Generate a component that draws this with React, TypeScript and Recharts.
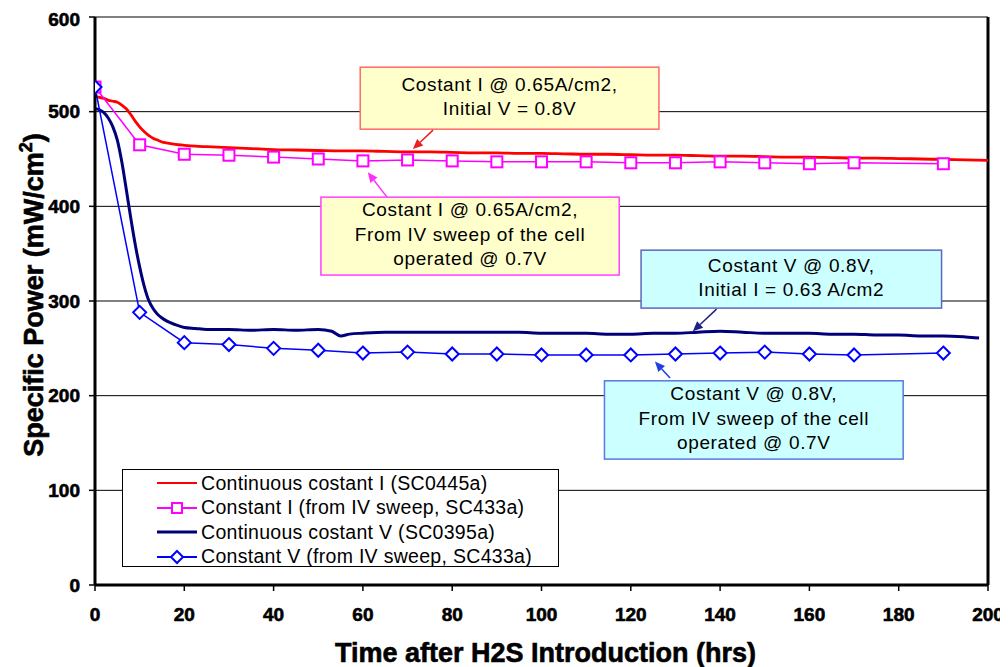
import React from "react";
import {
  LineChart,
  Line,
  XAxis,
  YAxis,
  CartesianGrid,
  ReferenceArea,
  ReferenceLine,
  Legend,
  Label,
} from "recharts";

// Time after H2S introduction (hrs) vs. specific power (mW/cm2)
const contIHours = [
  0, 1, 2, 3, 4, 5, 6, 7, 8, 9, 10, 11, 12, 13, 14, 15, 16,
  18, 20, 22.5, 25, 27.5, 30,
  35, 40, 45, 50, 55, 60, 65, 70, 75, 80, 85, 90, 95, 100, 105, 110, 115, 120,
  125, 130, 135, 140, 145, 150, 155, 160, 165, 170, 175, 180, 185, 190, 195, 200,
];
const contIPower = [
  516, 515, 514, 512, 511, 510, 507, 503, 497, 490, 484, 479, 475, 472, 470, 468, 467,
  465.5, 464.5, 463.5, 463, 462.5, 462,
  461, 460, 459.5, 459, 458.5, 458.5, 458, 457.5, 457.5, 457, 456.5, 456.5, 456, 456,
  455.5, 455, 455, 454.5, 454, 454, 453.5, 453, 453, 452.5, 452, 452, 451.5, 451, 451,
  450.5, 450, 449.5, 449, 448.5,
];

const sweepIHours = [0, 10, 20, 30, 40, 50, 60, 70, 80, 90, 100, 110, 120, 130, 140, 150, 160, 170, 190];
const sweepIPower = [526, 465, 455, 454, 452, 450, 448, 449, 448, 447, 447, 447, 446, 446, 447, 446, 445, 446, 445];

const contVHours = [
  0, 1, 2, 3, 4, 5, 6, 7, 8, 9, 10, 11, 12, 13, 14, 15, 16,
  18, 20, 22.5, 25, 30, 35, 40, 45, 50,
  53, 55, 57,
  60, 65, 70, 75, 80, 85, 90, 95, 100, 105, 110, 115, 120, 125, 130, 135, 140,
  145, 150, 155, 160, 165, 170, 175, 180, 185, 190, 195,
  198,
];
const contVPower = [
  503, 502, 499, 493, 484, 470, 447, 418, 388, 360, 336, 316, 301, 292, 286, 282, 279,
  275, 272, 271, 270, 270, 269, 270, 269, 270,
  268, 263, 265,
  266, 267, 267, 267, 267, 267, 267, 267, 266, 266, 266, 265, 265, 266, 266, 267, 268,
  267, 266, 266, 266, 265, 265, 264, 264, 263, 263, 262,
  261,
];

const sweepVHours = [0, 10, 20, 30, 40, 50, 60, 70, 80, 90, 100, 110, 120, 130, 140, 150, 160, 170, 190];
const sweepVPower = [526, 288, 256, 254, 250, 248, 245, 246, 244, 244, 243, 243, 243, 244, 245, 246, 244, 243, 245];

const xTicks = [0, 20, 40, 60, 80, 100, 120, 140, 160, 180, 200];
const yTicks = [0, 100, 200, 300, 400, 500, 600];

const seriesNames = [
  "Continuous costant I (SC0445a)",
  "Constant I (from IV sweep, SC433a)",
  "Continuous costant V (SC0395a)",
  "Constant V (from IV sweep, SC433a)",
];

const xTitle = "Time after H2S Introduction (hrs)";
const yTitle = "Specific Power (mW/cm";

const zip = (h: number[], p: number[]) => h.map((t, i) => ({ t, p: p[i] }));

const contIData = zip(contIHours, contIPower);
const sweepIData = zip(sweepIHours, sweepIPower);
const contVData = zip(contVHours, contVPower);
const sweepVData = zip(sweepVHours, sweepVPower);

const RED = "#ff0000";
const MAGENTA = "#ff00ff";
const NAVY = "#00007a";
const BLUE = "#0000ff";

const TEXT_FONT = "'Liberation Sans', Arial, sans-serif";

// Callout boxes, placed in chart units (hrs, mW/cm2)
const notes = [
  {
    lines: ["Costant I @ 0.65A/cm2,", "Initial V = 0.8V"],
    x1: 59.4, x2: 126.3, y1: 481.5, y2: 547,
    fill: "#ffffcc", stroke: "#ff6a6a",
    from: [75.7, 480.5], to: [71.2, 460.5], arrow: "#e82020",
  },
  {
    lines: ["Costant I @ 0.65A/cm2,", "From IV sweep of the cell", "operated @ 0.7V"],
    x1: 50.6, x2: 117.4, y1: 327.4, y2: 409.7,
    fill: "#ffffcc", stroke: "#ff40ff",
    from: [65.4, 409.7], to: [61.1, 436], arrow: "#ff30ff",
  },
  {
    lines: ["Costant V @ 0.8V,", "Initial I = 0.63 A/cm2"],
    x1: 122.3, x2: 189.6, y1: 292.5, y2: 353.7,
    fill: "#ccffff", stroke: "#5a68c0",
    from: [139.2, 291.4], to: [133.9, 268], arrow: "#202080",
  },
  {
    lines: ["Costant V @ 0.8V,", "From IV sweep of the cell", "operated @ 0.7V"],
    x1: 114.1, x2: 181.0, y1: 133, y2: 215.7,
    fill: "#ccffff", stroke: "#5a78e0",
    from: [128.8, 218.6], to: [125.4, 236], arrow: "#2040e0",
  },
];

const SquareDot = (props: any) => {
  const { cx, cy, index } = props;
  if (cx == null || cy == null) return <g key={`sq-${index}`} />;
  return (
    <rect key={`sq-${index}`} x={cx - 5.5} y={cy - 5.5} width={11} height={11}
      fill="#fff" stroke={MAGENTA} strokeWidth={2} />
  );
};

const DiamondDot = (props: any) => {
  const { cx, cy, index } = props;
  if (cx == null || cy == null) return <g key={`dm-${index}`} />;
  const r = 6.5;
  return (
    <polygon key={`dm-${index}`}
      points={`${cx},${cy - r} ${cx + r},${cy} ${cx},${cy + r} ${cx - r},${cy}`}
      fill="#fff" stroke={BLUE} strokeWidth={2} />
  );
};

const NoteBox = (props: any) => {
  const { x, y, width, height, note } = props;
  const lh = 24.5;
  const n = note.lines.length;
  const cx = x + width / 2;
  const cy = y + height / 2 - 2;
  return (
    <g>
      <rect x={x} y={y} width={width} height={height} fill={note.fill}
        stroke={note.stroke} strokeWidth={1.5} />
      {note.lines.map((s: string, i: number) => (
        <text key={i} x={cx} y={cy + (i - (n - 1) / 2) * lh + 6.8}
          textAnchor="middle" fontFamily={TEXT_FONT} fontSize={19}
          letterSpacing={0.65} fill="#000">
          {s}
        </text>
      ))}
    </g>
  );
};

const Arrow = (props: any) => {
  const { x1, y1, x2, y2, color } = props;
  if ([x1, y1, x2, y2].some((v) => v == null || isNaN(v))) return <g />;
  const ang = Math.atan2(y2 - y1, x2 - x1);
  const len = 10;
  const hw = 4.5;
  const bx = x2 - len * Math.cos(ang);
  const by = y2 - len * Math.sin(ang);
  const px = -Math.sin(ang) * hw;
  const py = Math.cos(ang) * hw;
  return (
    <g>
      <line x1={x1} y1={y1} x2={bx} y2={by} stroke={color} strokeWidth={1.5} />
      <polygon points={`${x2},${y2} ${bx + px},${by + py} ${bx - px},${by - py}`} fill={color} />
    </g>
  );
};

const legendRows = [
  { name: seriesNames[0], color: RED, width: 2, marker: "none" },
  { name: seriesNames[1], color: MAGENTA, width: 2, marker: "square" },
  { name: seriesNames[2], color: NAVY, width: 3, marker: "none" },
  { name: seriesNames[3], color: BLUE, width: 2, marker: "diamond" },
];

const LegendBox = () => (
  <div style={{ paddingTop: 1 }}>
    {legendRows.map((r) => (
      <div key={r.name} style={{ display: "flex", alignItems: "center", height: 24.5, paddingLeft: 34 }}>
        <svg width={40} height={16} style={{ marginRight: 4, flex: "none" }}>
          <line x1={0} y1={8} x2={40} y2={8} stroke={r.color} strokeWidth={r.width} />
          {r.marker === "square" && (
            <rect x={15} y={3} width={10} height={10} fill="#fff" stroke={r.color} strokeWidth={2} />
          )}
          {r.marker === "diamond" && (
            <polygon points="20,2 26,8 20,14 14,8" fill="#fff" stroke={r.color} strokeWidth={2} />
          )}
        </svg>
        <span style={{ fontFamily: TEXT_FONT, fontSize: 19.5, letterSpacing: 0.3, color: "#000", whiteSpace: "nowrap" }}>
          {r.name}
        </span>
      </div>
    ))}
  </div>
);

const XTitle = (props: any) => {
  const vb = props.viewBox || {};
  return (
    <text x={vb.x + vb.width / 2 + 4} y={vb.y + 77} textAnchor="middle"
      fontFamily={TEXT_FONT} fontWeight="bold" fontSize={27} fill="#000"
      stroke="#000" strokeWidth={0.6}>
      {xTitle}
    </text>
  );
};

const YTitle = (props: any) => {
  const vb = props.viewBox || {};
  const cx = vb.x + 25;
  const cy = vb.y + vb.height / 2 - 6;
  return (
    <text x={cx} y={cy} textAnchor="middle" transform={`rotate(-90, ${cx}, ${cy})`}
      fontFamily={TEXT_FONT} fontWeight="bold" fontSize={27} fill="#000"
      stroke="#000" strokeWidth={0.6}>
      {yTitle}
      <tspan dy={-11} fontSize={18}>2</tspan>
      <tspan dy={11}>)</tspan>
    </text>
  );
};

const tickStyle = {
  fill: "#000",
  fontSize: 19,
  fontWeight: "bold",
  fontFamily: TEXT_FONT,
  stroke: "#000",
  strokeWidth: 0.6,
};

export default function App() {
  return (
    <div style={{ width: 1000, height: 659, background: "#fff" }}>
      <LineChart width={1000} height={659} margin={{ top: 9, right: 20, bottom: 10, left: 10 }}>
        <CartesianGrid horizontal vertical={false} stroke="#000" strokeWidth={1} />
        <XAxis dataKey="t" type="number" domain={[0, 200]} ticks={xTicks}
          allowDataOverflow height={72} tick={tickStyle} tickSize={6} tickMargin={17}
          axisLine={{ stroke: "#000", strokeWidth: 3 }} tickLine={{ stroke: "#000", strokeWidth: 1.5 }}>
          <Label content={<XTitle />} />
        </XAxis>
        <YAxis type="number" domain={[0, 600]} ticks={yTicks} width={77}
          tick={tickStyle} tickSize={6} tickMargin={9}
          axisLine={{ stroke: "#000", strokeWidth: 3 }} tickLine={{ stroke: "#000", strokeWidth: 1.5 }}>
          <Label content={<YTitle />} />
        </YAxis>
        <ReferenceLine x={200} stroke="#000" strokeWidth={3} />

        {notes.map((n, i) => (
          <ReferenceArea key={`box-${i}`} x1={n.x1} x2={n.x2} y1={n.y1} y2={n.y2}
            shape={(p: any) => <NoteBox {...p} note={n} />} />
        ))}
        {notes.map((n, i) => (
          <ReferenceLine key={`arr-${i}`}
            segment={[{ x: n.from[0], y: n.from[1] }, { x: n.to[0], y: n.to[1] }]}
            shape={(p: any) => <Arrow {...p} color={n.arrow} />} />
        ))}

        <Line data={contIData} dataKey="p" name={seriesNames[0]} type="monotone"
          stroke={RED} strokeWidth={2.8} dot={false} isAnimationActive={false} />
        <Line data={sweepIData} dataKey="p" name={seriesNames[1]} type="linear"
          stroke={MAGENTA} strokeWidth={1.5} dot={SquareDot} isAnimationActive={false} />
        <Line data={contVData} dataKey="p" name={seriesNames[2]} type="monotone"
          stroke={NAVY} strokeWidth={3} dot={false} isAnimationActive={false} />
        <Line data={sweepVData} dataKey="p" name={seriesNames[3]} type="linear"
          stroke={BLUE} strokeWidth={1.5} dot={DiamondDot} isAnimationActive={false} />

        <Legend layout="vertical" align="center" verticalAlign="middle"
          content={() => <LegendBox />}
          wrapperStyle={{
            left: 114, top: 461, width: 437, height: 98,
            border: "1px solid #000", background: "#fff", boxSizing: "border-box",
          }} />
      </LineChart>
    </div>
  );
}
